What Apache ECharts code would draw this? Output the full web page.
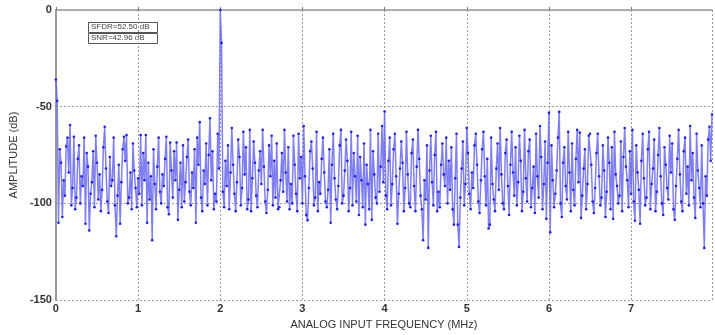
<!DOCTYPE html>
<html>
<head>
<meta charset="utf-8">
<script src="https://cdn.jsdelivr.net/npm/echarts@6/dist/echarts.min.js"></script>
<style>
html,body{margin:0;padding:0;background:#fff;}
#chart{width:715px;height:335px;}
</style>
</head>
<body>
<div id="chart"></div>
<script>
// FFT bin spacing (MHz) and amplitudes (dB), one value per bin
const binStepMHz = 8 / 512;
const amplitudes = [
-36,-47,-110,-72,-79,-107,-88,-96,-70.6,-66,-84,-59.5,-101,-92,-65.5,-103,
-97,-77,-70,-100,-86,-91,-66,-110.5,-74,-81,-114,-95,-89,-73,-102,-65,
-79,-98,-85,-104,-93,-71,-60.4,-82,-99,-105,-76,-91,-88,-66,-101,-117,
-96,-80,-110.5,-89,-72,-65.5,-78,-64.6,-100,-97,-84,-103,-69,-83,-92,-102,
-87,-95,-64.6,-101,-74,-88,-64.6,-110,-79,-98,-86,-119,-72,-90,-103,-81,
-66,-94,-100,-85,-91,-77,-65.5,-102,-105.6,-68.5,-83,-97,-73,-88,-68.5,-108.5,
-93,-79,-102,-70,-99,-89,-76,-67,-94,-101,-84,-92,-72,-110,-66,-80,
-58,-97,-104,-83,-90,-69,-101,-75,-56,-88,-73,-103,-95,-99,-64,-82,
0,-17,-94,-102,-78,-91,-70,-103,-84,-61,-80,-95,-104,-89,-67,-76,
-101,-92,-63,-85,-71,-103,-98,-62,-104,-87,-68,-79,-96,-102,-83,-73,
-90,-62,-81,-99,-105,-93,-70,-86,-65,-101,-78,-97,-69,-103,-102,-88,
-74,-94,-62,-84,-99,-71,-103,-90,-100,-65,-80,-95,-104,-64,-87,-76,
-100,-60,-86,-106,-108.7,-92,-73,-68,-82,-101,-97,-63,-104,-89,-95,-77,
-66,-84,-99,-102,-93,-72,-110,-80,-64,-87,-98,-103,-91,-70,-62,-100,
-96,-83,-67,-78,-104,-92,-63,-101,-74,-86,-99,-65,-106,-76,-88,-102,
-69,-111,-80,-90,-103,-62,-108.5,-73,-85,-97,-100,-64,-94,-81,-60,-89,
-52.5,-96,-103,-78,-66,-101,-90,-72,-64,-86,-110.5,-95,-82,-68,-79,-104,
-92,-63,-85,-100,-102,-74,-67,-91,-104,-81,-62,-77,-96,-103,-119,-88,
-98,-70,-123,-83,-65,-89,-101,-75,-63,-104,-94,-102,-80,-69,-85,-91,
-66,-100,-78,-93,-71,-103,-111,-87,-64,-111,-122.5,-97,-82,-68,-101,-90,
-61,-74,-95,-103,-84,-92,-70,-64,-80,-99,-105,-88,-72,-63,-86,-101,
-77,-113,-111,-66,-90,-98,-104,-82,-69,-93,-61,-85,-100,-103,-74,-67,
-91,-106,-80,-63,-84,-96,-71,-101,-89,-65,-78,-104,-94,-62,-87,-99,
-73,-67,-102,-92,-81,-105,-64,-86,-97,-60,-76,-103,-90,-68,-108,-79,
-53.2,-115,-70,-88,-102,-95,-83,-66,-52.7,-100,-107,-79,-71,-91,-98,-63,
-84,-104,-69,-93,-101,-77,-62,-89,-63.4,-107.5,-96,-82,-72,-103,-90,-65,
-64,-80,-99,-105,-92,-74,-64,-86,-101,-97,-70,-83,-107,-94,-66,-79,
-103,-71,-108,-63,-85,-91,-100,-96,-68,-104,-76,-61,-81,-88,-102,-73,
-95,-62,-99,-109,-70,-84,-93,-110.5,-78,-64,-87,-101,-97,-72,-63,-103,
-90,-82,-67,-104,-94,-75,-61,-86,-100,-106,-71,-80,-92,-98,-65,-84,
-69,-103,-108.5,-91,-77,-62,-85,-99,-104,-73,-66,-95,-81,-101,-60,-88,
-74,-97,-107.5,-64,-83,-92,-102,-70,-100,-123,-86,-96,-67,-60.4,-78,-54
];
const xTicks = [0,1,2,3,4,5,6,7];
const yTicks = [-150,-100,-50,0];
const noteLines = ['SFDR=52.50 dB', 'SNR=42.96 dB'];

const seriesData = amplitudes.map((v, i) => [i * binStepMHz, v]);
const chart = echarts.init(document.getElementById('chart'), null, {renderer: 'canvas'});
const font = 'Liberation Sans, Arial, sans-serif';
chart.setOption({
  animation: false,
  backgroundColor: '#ffffff',
  grid: {left: 52, right: 3, top: 10, bottom: 31},
  xAxis: {
    type: 'value', min: 0, max: (amplitudes.length - 1) * binStepMHz, interval: 1,
    name: 'ANALOG INPUT FREQUENCY (MHz)', nameLocation: 'middle', nameGap: 18,
    nameTextStyle: {fontFamily: font, fontSize: 11, color: '#333'},
    axisLine: {lineStyle: {color: '#9a9a9a', width: 1.5}},
    axisTick: {inside: true, length: 3, lineStyle: {color: '#777'}},
    axisLabel: {fontFamily: font, fontSize: 11, fontWeight: 'bold', color: '#333', margin: 3,
      showMaxLabel: false,
      formatter: v => xTicks.indexOf(Math.round(v)) >= 0 && Math.abs(v - Math.round(v)) < 1e-6 ? String(Math.round(v)) : ''},
    splitLine: {show: true, lineStyle: {color: '#999', type: [2, 2], width: 1}}
  },
  yAxis: {
    type: 'value', min: yTicks[0], max: yTicks[yTicks.length - 1], interval: 50,
    name: 'AMPLITUDE (dB)', nameLocation: 'middle', nameGap: 30, nameRotate: 90,
    nameTextStyle: {fontFamily: font, fontSize: 11, color: '#333'},
    axisLine: {show: true, lineStyle: {color: '#9a9a9a', width: 2}},
    axisTick: {show: false},
    axisLabel: {fontFamily: font, fontSize: 11, fontWeight: 'bold', color: '#333', margin: 4},
    splitLine: {show: true, lineStyle: {color: '#999', type: [2, 2], width: 1}}
  },
  series: [{
    type: 'line',
    data: seriesData,
    showSymbol: true,
    showAllSymbol: true,
    symbol: 'circle',
    symbolSize: 2.6,
    itemStyle: {color: '#1e1ef0'},
    lineStyle: {color: 'rgba(95,95,240,0.8)', width: 1.5},
    sampling: null
  }],
  graphic: [
    {type: 'rect', left: 88, top: 22, shape: {width: 69, height: 10},
     style: {fill: '#fff', stroke: '#555', lineWidth: 1}},
    {type: 'text', left: 91, top: 23, style: {text: noteLines[0], fontFamily: font, fontSize: 8, fill: '#444'}},
    {type: 'rect', left: 88, top: 33, shape: {width: 69, height: 10},
     style: {fill: '#fff', stroke: '#555', lineWidth: 1}},
    {type: 'text', left: 91, top: 34, style: {text: noteLines[1], fontFamily: font, fontSize: 8, fill: '#444'}}
  ]
});
</script>
</body>
</html>
